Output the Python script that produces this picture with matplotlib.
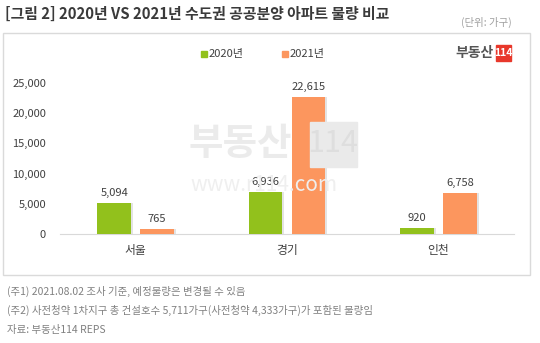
import matplotlib
matplotlib.use('Agg')
import matplotlib.pyplot as plt
from matplotlib.patches import Rectangle
import numpy as np

plt.rcParams['font.family'] = ['Noto Sans CJK KR', 'DejaVu Sans']

regions = ['서울', '경기', '인천']
series_names = ['2020년', '2021년']
values_2020 = [5094, 6936, 920]
values_2021 = [765, 22615, 6758]
colors = ['#92C11C', '#FC965E']
yticks = [0, 5000, 10000, 15000, 20000, 25000]

W, H = 540, 343
fig = plt.figure(figsize=(W / 100, H / 100), dpi=100)

def fx(px):
    return px / W

def fy(py):
    return 1 - py / H

# outer frame
fig.patches.append(Rectangle((fx(3), fy(275)), fx(530) - fx(3), fy(33) - fy(275),
                             transform=fig.transFigure, fill=False,
                             edgecolor='#DADADA', linewidth=1.0))

ax = fig.add_axes([fx(60), fy(234), fx(514) - fx(60), fy(83) - fy(234)])

x = np.arange(len(regions))
bw = 0.224
off = 0.142
for vals, c, sgn in [(values_2020, colors[0], -1), (values_2021, colors[1], 1)]:
    # slight shadow
    ax.bar(x + sgn * off + 0.012, vals, bw, color='#C8C8C8', zorder=2, alpha=0.5)
    ax.bar(x + sgn * off, vals, bw, color=c, zorder=3)
    for xi, v in zip(x + sgn * off, vals):
        ax.text(xi, v + 900, f'{v:,}', ha='center', va='bottom', fontsize=8,
                color='#404040', zorder=4)

ax.set_xlim(-0.5, 2.5)
ax.set_ylim(0, 25000)
ax.set_yticks(yticks)
ax.set_yticklabels([f'{t:,}' for t in yticks], fontsize=8, color='#404040')
ax.set_xticks(x)
ax.set_xticklabels(regions, fontsize=8.5, color='#404040')
ax.tick_params(length=0)
ax.tick_params(axis='y', pad=10)
ax.tick_params(axis='x', pad=7)
for s in ['top', 'right', 'left']:
    ax.spines[s].set_visible(False)
ax.spines['bottom'].set_color('#D9D9D9')
ax.patch.set_alpha(0)

# watermark
fig.text(fx(188), fy(143), '부동산', fontsize=27, fontweight='black', color='#EBEBEB',
         va='center', ha='left', zorder=0)
fig.patches.append(Rectangle((fx(310), fy(167)), fx(357) - fx(310), fy(122) - fy(167),
                             transform=fig.transFigure, color='#EAEAEA', zorder=0))
fig.text(fx(333), fy(144), '114', fontsize=22, color='#DEDEDE', va='center',
         ha='center', zorder=0)
fig.text(fx(190), fy(185), 'www.r114.com', fontsize=15, color='#EFEFEF',
         va='center', ha='left', zorder=0)

# title
fig.text(fx(5), fy(14), '[그림 2] 2020년 VS 2021년 수도권 공공분양 아파트 물량 비교',
         fontsize=10.7, fontweight='bold', color='#3A3A3A', va='center', ha='left')
fig.text(fx(512), fy(22), '(단위: 가구)', fontsize=7.5, color='#A0A0A0',
         va='center', ha='right')

# legend
for i, (name, c) in enumerate(zip(series_names, colors)):
    lx = 201 + i * 81
    fig.patches.append(Rectangle((fx(lx), fy(57)), fx(6), 6 / H,
                                 transform=fig.transFigure, color=c))
    fig.text(fx(lx + 8), fy(54), name, fontsize=8, color='#404040',
             va='center', ha='left')

# logo
fig.text(fx(494), fy(53), '부동산', fontsize=10, fontweight='black', color='#555555',
         va='center', ha='right')
fig.patches.append(Rectangle((fx(496), fy(61)), fx(15), 16 / H,
                             transform=fig.transFigure, color='#E8382B'))
fig.text(fx(503.5), fy(53), '114', fontsize=7.5, fontweight='bold', color='white',
         va='center', ha='center')

# footnotes
notes = ['(주1) 2021.08.02 조사 기준, 예정물량은 변경될 수 있음',
         '(주2) 사전청약 1차지구 총 건설호수 5,711가구(사전청약 4,333가구)가 포함된 물량임',
         '자료: 부동산114 REPS']
for i, n in enumerate(notes):
    fig.text(fx(7), fy(291 + i * 19.5), n, fontsize=7.5, color='#808080',
             va='center', ha='left')

fig.savefig('out.png', dpi=100)
